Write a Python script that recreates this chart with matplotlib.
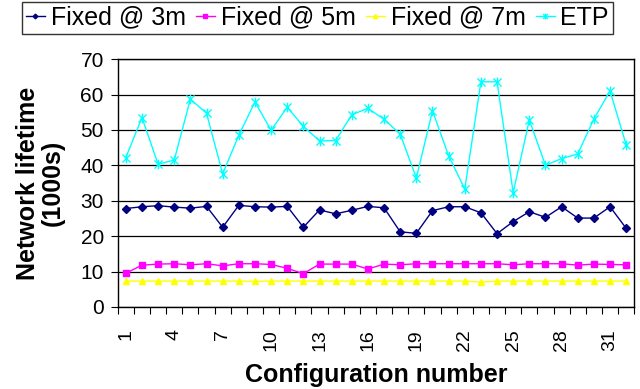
import matplotlib
matplotlib.use("Agg")
import matplotlib.pyplot as plt
import numpy as np
from matplotlib.path import Path

plt.rcParams['font.family'] = ['Liberation Sans', 'DejaVu Sans']

configs = list(range(1, 33))

fixed_3m = [27.8, 28.3, 28.6, 28.2, 27.9, 28.4, 22.5, 28.7, 28.3, 28.2, 28.4, 22.5,
            27.4, 26.3, 27.3, 28.4, 28.0, 21.2, 20.8, 27.2, 28.3, 28.3, 26.6, 20.7,
            24.1, 26.9, 25.3, 28.3, 25.1, 25.1, 28.3, 22.2]
fixed_5m = [9.5, 11.8, 12.1, 12.2, 11.9, 12.2, 11.6, 12.2, 12.2, 12.0, 10.9, 9.4,
            12.1, 12.1, 12.1, 10.7, 12.1, 11.9, 12.2, 12.2, 12.2, 12.2, 12.2, 12.2,
            11.9, 12.2, 12.2, 12.2, 11.8, 12.1, 12.0, 11.9]
fixed_7m = [7.3, 7.3, 7.3, 7.3, 7.3, 7.3, 7.3, 7.3, 7.2, 7.3, 7.3, 7.3,
            7.3, 7.3, 7.3, 7.3, 7.3, 7.3, 7.3, 7.3, 7.3, 7.3, 7.0, 7.3,
            7.3, 7.3, 7.3, 7.3, 7.3, 7.3, 7.3, 7.3]
etp = [42.2, 53.5, 40.3, 41.5, 58.7, 54.7, 37.6, 48.5, 57.9, 49.9, 56.4, 51.0,
       46.9, 47.0, 54.3, 56.1, 53.0, 48.8, 36.4, 55.4, 42.7, 33.3, 63.6, 63.6,
       32.3, 52.8, 40.0, 41.9, 43.2, 53.1, 61.0, 45.8]

series_names = ['Fixed @ 3m', 'Fixed @ 5m', 'Fixed @ 7m', 'ETP']

# x plus a vertical stroke, like the spreadsheet "star" marker
star = Path([(-1, -1), (1, 1), (-1, 1), (1, -1), (0, -1.2), (0, 1.2)],
            [Path.MOVETO, Path.LINETO, Path.MOVETO, Path.LINETO, Path.MOVETO, Path.LINETO])

fig = plt.figure(figsize=(6.4, 3.89), dpi=100)
ax = fig.add_axes([0.184, 0.211, 0.807, 0.637])

ax.plot(configs, fixed_3m, color='#000080', marker='D', markersize=4, lw=1, label=series_names[0])
ax.plot(configs, fixed_5m, color='#FF00FF', marker='s', markersize=5, lw=1, label=series_names[1])
ax.plot(configs, fixed_7m, color='#FFFF00', marker='^', markersize=5, lw=1, label=series_names[2])
ax.plot(configs, etp, color='#00FFFF', marker=star, markersize=7, mew=1, lw=1,
        mfc='none', label=series_names[3])

ax.set_xlim(0.5, 32.5)
ax.set_ylim(0, 70)
ax.set_yticks(np.arange(0, 71, 10))
ax.yaxis.grid(True, color='black', lw=0.9)
ax.set_axisbelow(True)

ax.set_xticks(configs[::3])
ax.set_xticklabels([str(c) for c in configs[::3]], rotation=90)
ax.set_xticks(np.arange(0.5, 33, 1), minor=True)
ax.tick_params(axis='x', which='major', length=0, pad=16, labelsize=14)
ax.tick_params(axis='x', which='minor', length=5, width=0.8, direction='out')
ax.tick_params(axis='y', length=5, width=0.8, direction='out', labelsize=15, pad=5)

for s in ax.spines.values():
    s.set_linewidth(1)
    s.set_color('black')

ax.set_xlabel('Configuration number', fontsize=18, fontweight='bold', labelpad=9)
ax.set_ylabel('Network lifetime\n(1000s)', fontsize=18, fontweight='bold',
              labelpad=11, linespacing=1.05)

leg = fig.legend(loc='upper left', bbox_to_anchor=(22 / 640, 1 - 2 / 389), ncol=4,
                 fontsize=18, frameon=True, fancybox=False, handlelength=0.76,
                 handletextpad=0.24, columnspacing=0.4, borderpad=0.15,
                 borderaxespad=0, markerscale=0.6)
leg.get_frame().set_edgecolor('black')
leg.get_frame().set_linewidth(1)

fig.savefig('out.png', dpi=100)
